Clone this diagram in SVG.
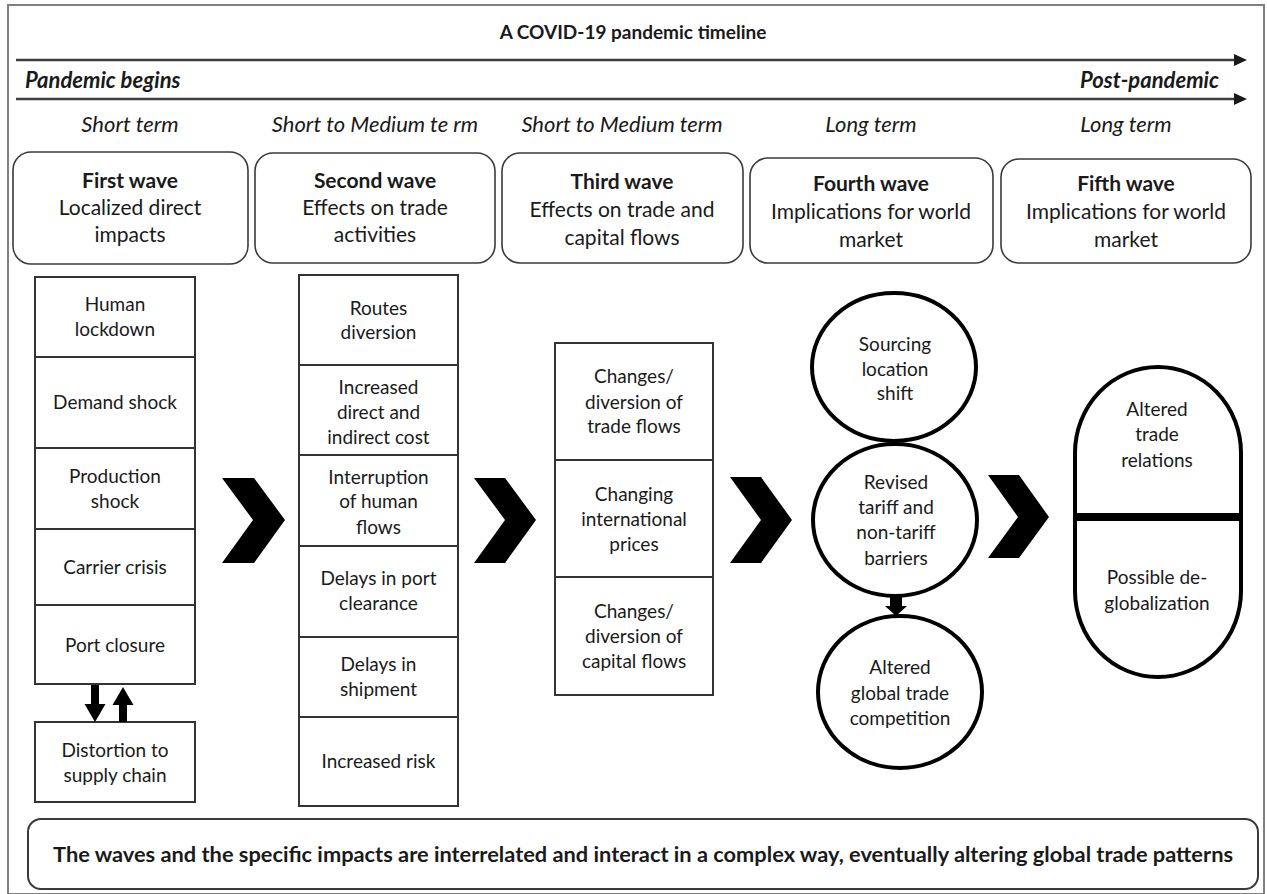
<svg xmlns="http://www.w3.org/2000/svg" width="1267" height="894" viewBox="0 0 1267 894">
<defs>
<style>
text{font-family:Lato,"Open Sans","Liberation Sans",sans-serif;fill:#1a1a1a;text-anchor:middle}
.t{font-size:19px}
.w{font-size:21px}
.wb{font-size:21px;font-weight:bold}
.term{font-size:22px;font-style:italic}
.pb{font-size:22px;font-weight:bold;font-style:italic}
.cell{fill:#fff;stroke:#333;stroke-width:2}
.wave{fill:#fff;stroke:#3a3a3a;stroke-width:1.6}
.ell{fill:#fff;stroke:#000;stroke-width:4}
.chev{fill:#000}
.tl{stroke:#3f3f3f;stroke-width:2.5}
</style>
</defs>
<rect x="8" y="5" width="1256" height="889" fill="#fff" stroke="#808080" stroke-width="2"/>

<g id="timeline">
<text x="633" y="39" style="font-size:19px;font-weight:bold">A COVID-19 pandemic timeline</text>
<line class="tl" x1="16" y1="60" x2="1236" y2="60"/>
<polygon points="1234,54 1247,60 1234,66" fill="#1a1a1a"/>
<text class="pb" x="25" y="88" style="text-anchor:start">Pandemic begins</text>
<text class="pb" x="1219" y="88" style="text-anchor:end">Post-pandemic</text>
<line class="tl" x1="16" y1="99" x2="1236" y2="99"/>
<polygon points="1234,93 1247,99 1234,105" fill="#1a1a1a"/>
</g>

<g id="terms">
<text class="term" x="130" y="132">Short term</text>
<text class="term" x="375" y="132">Short to Medium te rm</text>
<text class="term" x="622" y="132">Short to Medium term</text>
<text class="term" x="871" y="132">Long term</text>
<text class="term" x="1126" y="132">Long term</text>
</g>

<g id="wave1">
<rect class="wave" x="13" y="152" width="235" height="112" rx="18"/>
<text class="wb" x="130" y="188">First wave</text>
<text class="w" x="130" y="215">Localized direct</text>
<text class="w" x="130" y="242">impacts</text>
</g>
<g id="wave2">
<rect class="wave" x="255" y="153" width="240" height="110" rx="18"/>
<text class="wb" x="375" y="188">Second wave</text>
<text class="w" x="375" y="215">Effects on trade</text>
<text class="w" x="375" y="242">activities</text>
</g>
<g id="wave3">
<rect class="wave" x="502" y="153" width="241" height="110" rx="18"/>
<text class="wb" x="622" y="189">Third wave</text>
<text class="w" x="622" y="217">Effects on trade and</text>
<text class="w" x="622" y="245">capital flows</text>
</g>
<g id="wave4">
<rect class="wave" x="750" y="158" width="243" height="105" rx="18"/>
<text class="wb" x="871" y="191">Fourth wave</text>
<text class="w" x="871" y="219">Implications for world</text>
<text class="w" x="871" y="247">market</text>
</g>
<g id="wave5">
<rect class="wave" x="1001" y="159" width="250" height="104" rx="18"/>
<text class="wb" x="1126" y="191">Fifth wave</text>
<text class="w" x="1126" y="219">Implications for world</text>
<text class="w" x="1126" y="247">market</text>
</g>

<g id="col1">
<g id="human-lockdown"><rect class="cell" x="35" y="277" width="160" height="80"/><text class="t" x="115" y="311">Human</text><text class="t" x="115" y="336">lockdown</text></g>
<g id="demand-shock"><rect class="cell" x="35" y="357" width="160" height="91"/><text class="t" x="115" y="409">Demand shock</text></g>
<g id="production-shock"><rect class="cell" x="35" y="448" width="160" height="81"/><text class="t" x="115" y="483">Production</text><text class="t" x="115" y="508">shock</text></g>
<g id="carrier-crisis"><rect class="cell" x="35" y="529" width="160" height="76"/><text class="t" x="115" y="574">Carrier crisis</text></g>
<g id="port-closure"><rect class="cell" x="35" y="605" width="160" height="79"/><text class="t" x="115" y="652">Port closure</text></g>
<g id="distortion"><rect class="cell" x="35" y="722" width="160" height="80"/><text class="t" x="115" y="757">Distortion to</text><text class="t" x="115" y="782">supply chain</text></g>
</g>

<g id="col2">
<g id="routes"><rect class="cell" x="299" y="275" width="159" height="90"/><text class="t" x="378.5" y="315">Routes</text><text class="t" x="378.5" y="339">diversion</text></g>
<g id="cost"><rect class="cell" x="299" y="365" width="159" height="90"/><text class="t" x="378.5" y="394">Increased</text><text class="t" x="378.5" y="419">direct and</text><text class="t" x="378.5" y="444">indirect cost</text></g>
<g id="human-flows"><rect class="cell" x="299" y="455" width="159" height="91"/><text class="t" x="378.5" y="484">Interruption</text><text class="t" x="378.5" y="508">of human</text><text class="t" x="378.5" y="534">flows</text></g>
<g id="port-clearance"><rect class="cell" x="299" y="546" width="159" height="91"/><text class="t" x="378.5" y="585">Delays in port</text><text class="t" x="378.5" y="610">clearance</text></g>
<g id="shipment"><rect class="cell" x="299" y="637" width="159" height="80"/><text class="t" x="378.5" y="671">Delays in</text><text class="t" x="378.5" y="696">shipment</text></g>
<g id="risk"><rect class="cell" x="299" y="717" width="159" height="89"/><text class="t" x="378.5" y="768">Increased risk</text></g>
</g>

<g id="col3">
<g id="trade-flows"><rect class="cell" x="555" y="343" width="158" height="117"/><text class="t" x="634" y="383">Changes/</text><text class="t" x="634" y="409">diversion of</text><text class="t" x="634" y="433">trade flows</text></g>
<g id="prices"><rect class="cell" x="555" y="460" width="158" height="117"/><text class="t" x="634" y="501">Changing</text><text class="t" x="634" y="526">international</text><text class="t" x="634" y="551">prices</text></g>
<g id="capital-flows"><rect class="cell" x="555" y="577" width="158" height="118"/><text class="t" x="634" y="618">Changes/</text><text class="t" x="634" y="643">diversion of</text><text class="t" x="634" y="668">capital flows</text></g>
</g>

<g id="col4">
<g id="sourcing"><ellipse class="ell" cx="894" cy="367" rx="82" ry="74"/><text class="t" x="895" y="351">Sourcing</text><text class="t" x="895" y="376">location</text><text class="t" x="895" y="400">shift</text></g>
<g id="revised"><ellipse class="ell" cx="895" cy="520" rx="82" ry="76"/><text class="t" x="896" y="489">Revised</text><text class="t" x="896" y="514">tariff and</text><text class="t" x="896" y="539">non-tariff</text><text class="t" x="896" y="565">barriers</text></g>
<g id="altered-competition"><ellipse class="ell" cx="900" cy="692" rx="82" ry="76"/><text class="t" x="900" y="674">Altered</text><text class="t" x="900" y="700">global trade</text><text class="t" x="900" y="725">competition</text></g>
</g>

<g id="col5">
<g id="altered-relations"><path class="ell" d="M1075,515 V453 A82,85 0 0 1 1241,453 V515 Z"/><text class="t" x="1157" y="416">Altered</text><text class="t" x="1157" y="441">trade</text><text class="t" x="1157" y="467">relations</text></g>
<g id="deglobalization"><path class="ell" d="M1075,519 V591 A82,85 0 0 0 1241,591 V519 Z"/><text class="t" x="1157" y="584">Possible de-</text><text class="t" x="1157" y="610">globalization</text></g>
</g>

<g id="connectors">
<polygon class="chev" points="222,478 254,478 285,520 254,563 222,563 253,520"/>
<polygon class="chev" points="474,478 505,478 536,520 505,563 474,563 505,520"/>
<polygon class="chev" points="730,477 761,477 792,520 761,563 730,563 761,520"/>
<polygon class="chev" points="988,475 1019,475 1049,517 1019,558 988,558 1018,517"/>
<polygon fill="#000" points="91,685 99,685 99,704 105.5,704 95,722 84.5,704 91,704"/>
<polygon fill="#000" points="119,722 127,722 127,705 133.5,705 123,687 112.5,705 119,705"/>
<polygon fill="#000" points="890,597 902,597 902,606 907,606 896,616 885,606 890,606"/>
</g>

<g id="summary">
<rect x="28" y="819" width="1230" height="70" rx="13" fill="#fff" stroke="#3a3a3a" stroke-width="2"/>
<text x="643" y="862" style="font-size:21px;font-weight:bold" textLength="1180" lengthAdjust="spacingAndGlyphs">The waves and the specific impacts are interrelated and interact in a complex way, eventually altering global trade patterns</text>
</g>
</svg>
